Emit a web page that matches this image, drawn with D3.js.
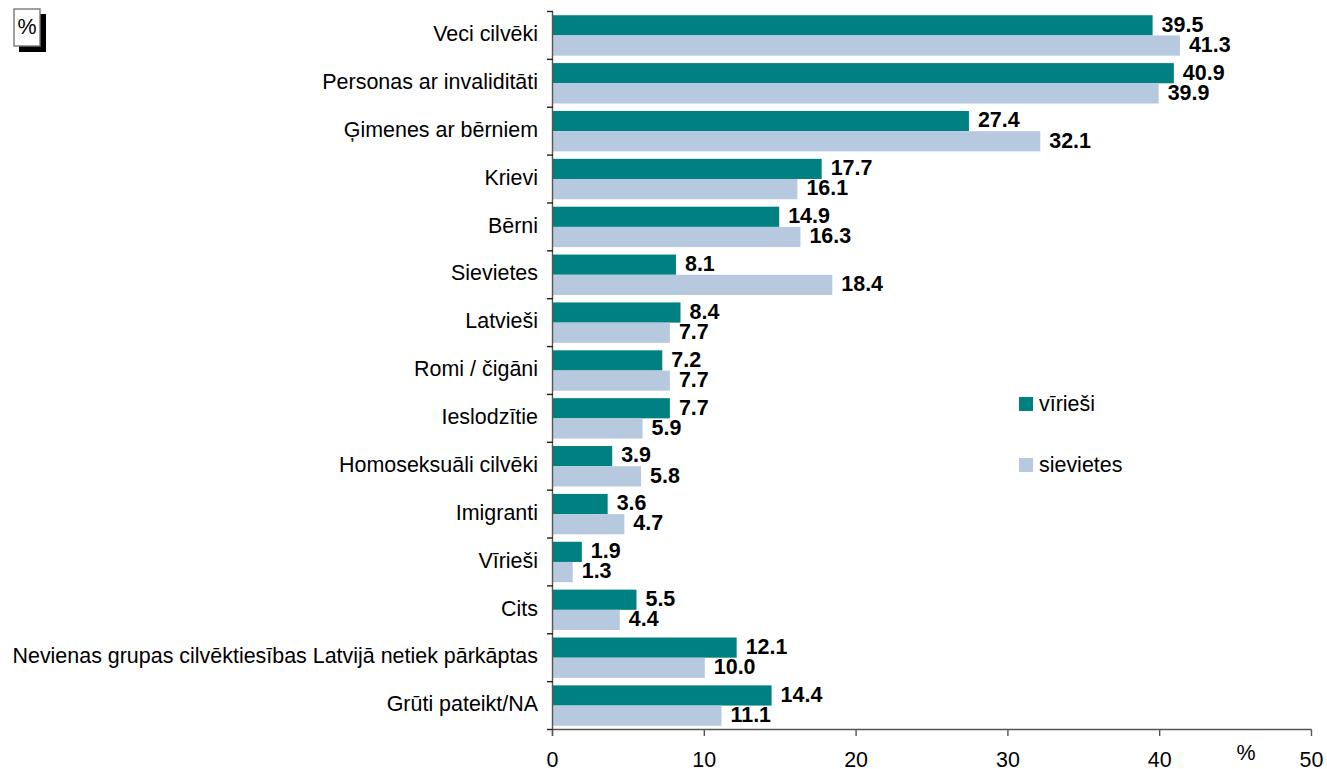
<!DOCTYPE html>
<html><head><meta charset="utf-8">
<script src="https://cdn.jsdelivr.net/npm/d3@7"></script>
<style>html,body{margin:0;padding:0;background:#fff}svg{display:block}text{font-family:"Liberation Sans",Arial,sans-serif;fill:#000}</style>
</head><body><svg id="c" width="1327" height="769"></svg>
<script>
const categories=["Veci cilvēki","Personas ar invaliditāti","Ģimenes ar bērniem","Krievi","Bērni","Sievietes","Latvieši","Romi / čigāni","Ieslodzītie","Homoseksuāli cilvēki","Imigranti","Vīrieši","Cits","Nevienas grupas cilvēktiesības Latvijā netiek pārkāptas","Grūti pateikt/NA"];
const men=[39.5,40.9,27.4,17.7,14.9,8.1,8.4,7.2,7.7,3.9,3.6,1.9,5.5,12.1,14.4];
const women=[41.3,39.9,32.1,16.1,16.3,18.4,7.7,7.7,5.9,5.8,4.7,1.3,4.4,10.0,11.1];
const xTicks=[0,10,20,30,40,50];
const seriesNames=["vīrieši","sievietes"];
const colors=["#008080","#b7c9de"];

const svg=d3.select("#c");
const x=d3.scaleLinear().domain([0,50]).range([553,1312]);
const y=d3.scaleBand().domain(categories).range([11.5,729.5]).paddingInner(0.156).paddingOuter(0.078);
const bh=y.bandwidth()/2;
const fs=21.45;
[men,women].forEach((vals,s)=>{
  svg.append("g").selectAll("rect").data(vals).join("rect")
    .attr("x",x(0)).attr("y",(d,i)=>y(categories[i])+s*bh)
    .attr("width",d=>x(d)-x(0)).attr("height",bh).attr("fill",colors[s]);
  svg.append("g").selectAll("text").data(vals).join("text")
    .attr("x",d=>x(d)+9).attr("y",(d,i)=>y(categories[i])+s*bh+bh/2+6.3)
    .attr("font-size",fs).attr("font-weight","bold").text(d=>d.toFixed(1));
});
const ax=svg.append("g").attr("fill","none").attr("stroke","#555").attr("stroke-width",1.4);
ax.append("line").attr("x1",x(0)-0.5).attr("x2",x(0)-0.5).attr("y1",11.5).attr("y2",736);
ax.append("line").attr("x1",x(0)).attr("x2",x(50)-0.5).attr("y1",729.5).attr("y2",729.5);
const step=y.step();
ax.selectAll(".ty").data(d3.range(categories.length+1)).join("line")
  .attr("x1",547).attr("x2",x(0)).attr("y1",i=>11.5+i*step).attr("y2",i=>11.5+i*step).attr("stroke","#222");
ax.selectAll(".tx").data(xTicks).join("line")
  .attr("x1",d=>x(d)-0.5).attr("x2",d=>x(d)-0.5).attr("y1",729.5).attr("y2",736);
svg.append("g").selectAll("text").data(categories).join("text")
  .attr("x",538).attr("y",d=>y(d)+y.bandwidth()/2+5.7).attr("text-anchor","end")
  .attr("font-size",fs).text(d=>d);
svg.append("g").selectAll("text").data(xTicks).join("text")
  .attr("x",d=>x(d)-0.5).attr("y",767).attr("text-anchor","middle").attr("font-size",fs).text(d=>d);
svg.append("text").attr("x",1246).attr("y",760).attr("text-anchor","middle").attr("font-size",fs).text("%");
// legend
seriesNames.forEach((n,i)=>{
  const ly=[404,465][i];
  svg.append("rect").attr("x",1019).attr("y",ly-7).attr("width",14).attr("height",14).attr("fill",colors[i]);
  svg.append("text").attr("x",1039).attr("y",ly+6.5).attr("font-size",fs).text(n);
});
// box
svg.append("rect").attr("x",19).attr("y",14).attr("width",27).attr("height",38).attr("fill","#000");
svg.append("rect").attr("x",14).attr("y",9).attr("width",26).attr("height",37).attr("fill","#fff").attr("stroke","#777").attr("stroke-width",1.4);
svg.append("text").attr("x",27).attr("y",34).attr("text-anchor","middle").attr("font-size",fs).text("%");
</script></body></html>
